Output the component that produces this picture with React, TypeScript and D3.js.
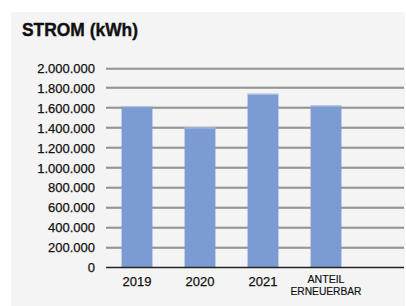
import React, { useRef, useEffect } from 'react';
import * as d3 from 'd3';

const categories = ['2019', '2020', '2021', 'ANTEIL ERNEUERBAR', ''];
const values = [1622000, 1408000, 1746000, 1628000, null];
const yTicks = [0, 200000, 400000, 600000, 800000, 1000000, 1200000, 1400000, 1600000, 1800000, 2000000];

const W = 406;
const H = 306;
const font = '"Liberation Sans", Arial, sans-serif';

const App = () => {
  const ref = useRef<SVGSVGElement>(null);

  useEffect(() => {
    const svg = d3.select(ref.current);
    svg.selectAll('*').remove();

    svg.append('rect').attr('width', W).attr('height', H).attr('fill', '#ffffff');
    svg.append('rect').attr('x', 11).attr('y', 12).attr('width', W - 12).attr('height', H - 12).attr('fill', '#f4f4f4');

    svg.append('text')
      .attr('x', 22).attr('y', 36)
      .attr('font-family', font)
      .attr('font-weight', 'bold')
      .attr('font-size', 18.5)
      .attr('textLength', 116)
      .attr('lengthAdjust', 'spacingAndGlyphs')
      .attr('fill', '#111')
      .attr('stroke', '#111')
      .attr('stroke-width', 0.4)
      .text('STROM (kWh)');

    const x = d3.scaleBand()
      .domain(categories.map((c, i) => c + i))
      .range([105.5, 420.5])
      .paddingInner(0.51)
      .paddingOuter(0.255);

    const y = d3.scaleLinear().domain([0, 2000000]).range([267.5, 68.5]);

    const fmt = (v: number) => d3.format(',')(v).replace(/,/g, '.');

    // grid lines
    const grid = svg.append('g');
    yTicks.forEach((t) => {
      const yy = Math.round(y(t));
      if (t === 0) return;
      grid.append('line').attr('x1', 106).attr('x2', 404).attr('y1', yy - 1).attr('y2', yy - 1)
        .attr('stroke', '#b4b4b4').attr('stroke-width', 1);
      grid.append('line').attr('x1', 106).attr('x2', 404).attr('y1', yy).attr('y2', yy)
        .attr('stroke', '#5a5a5a').attr('stroke-width', 1.2);
    });

    // y labels
    svg.append('g').selectAll('text').data(yTicks).enter().append('text')
      .attr('x', 95)
      .attr('y', (d) => y(d) + 4.5)
      .attr('text-anchor', 'end')
      .attr('font-family', font)
      .attr('font-size', 13)
      .attr('fill', '#111')
      .attr('stroke', '#111')
      .attr('stroke-width', 0.25)
      .text((d) => fmt(d));

    // bars
    const data = categories.map((c, i) => ({ key: c + i, label: c, value: values[i] }));
    const bars = data.filter((d) => d.value != null);
    svg.append('g').selectAll('rect').data(bars).enter().append('rect')
      .attr('x', (d) => x(d.key)!)
      .attr('width', x.bandwidth())
      .attr('y', (d) => y(d.value as number))
      .attr('height', (d) => y(0) - y(d.value as number))
      .attr('fill', '#7b9bd2');
    svg.append('g').selectAll('line').data(bars).enter().append('line')
      .attr('x1', (d) => x(d.key)!)
      .attr('x2', (d) => x(d.key)! + x.bandwidth())
      .attr('y1', (d) => y(d.value as number) + 0.5)
      .attr('y2', (d) => y(d.value as number) + 0.5)
      .attr('stroke', '#b3c4e4');

    // zero line
    svg.append('line').attr('x1', 106).attr('x2', 404).attr('y1', y(0)).attr('y2', y(0))
      .attr('stroke', '#222').attr('stroke-width', 1.3);

    // x labels
    const xl = svg.append('g');
    data.forEach((d) => {
      if (!d.label) return;
      const cx = x(d.key)! + x.bandwidth() / 2;
      if (d.label.includes(' ')) {
        const parts = d.label.split(' ');
        const widths = [37, 71];
        parts.forEach((p, i) => {
          xl.append('text')
            .attr('x', cx - widths[i] / 2).attr('y', 283 + i * 11.5)
            .attr('font-family', font)
            .attr('font-size', 11)
            .attr('textLength', widths[i])
            .attr('lengthAdjust', 'spacingAndGlyphs')
            .attr('fill', '#111')
            .attr('stroke', '#111')
            .attr('stroke-width', 0.2)
            .text(p);
        });
      } else {
        xl.append('text')
          .attr('x', cx).attr('y', 286)
          .attr('text-anchor', 'middle')
          .attr('font-family', font)
          .attr('font-size', 13)
          .attr('fill', '#111')
          .attr('stroke', '#111')
          .attr('stroke-width', 0.25)
          .text(d.label);
      }
    });
  }, []);

  return (
    <svg ref={ref} width={W} height={H} style={{ position: 'fixed', left: 0, top: 0 }}></svg>
  );
};

export default App;
